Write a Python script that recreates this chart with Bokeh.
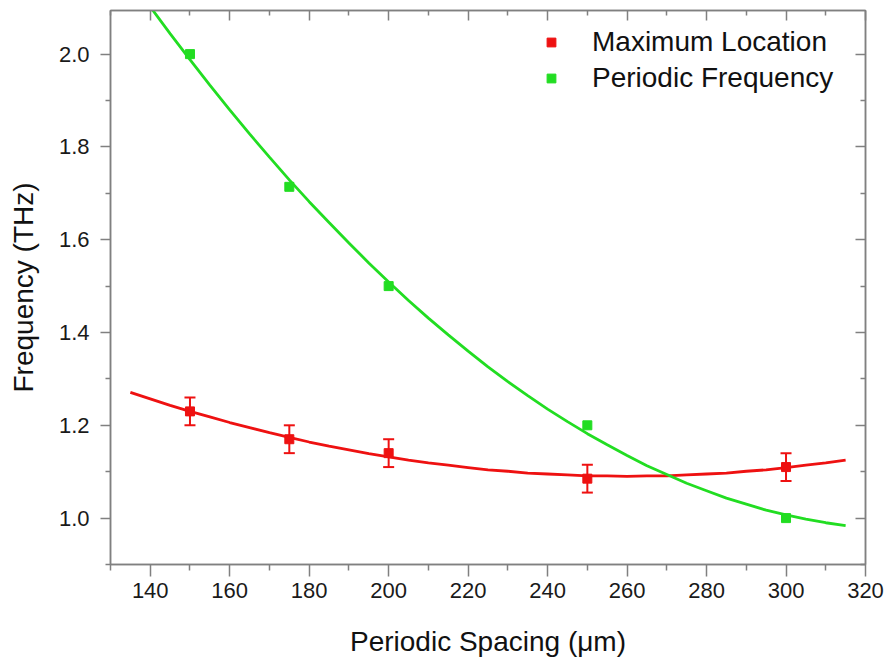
from bokeh.plotting import figure
from bokeh.models import (Range1d, LinearAxis, FixedTicker, NumeralTickFormatter,
                          CustomJSTickFormatter, Whisker, TeeHead, ColumnDataSource,
                          Legend, LegendItem)
from bokeh.embed import file_html
from bokeh.resources import INLINE

# ---- data ----
spacing = [150, 175, 200, 250, 300]
max_location = [1.23, 1.17, 1.14, 1.085, 1.11]
max_location_err = [0.03, 0.03, 0.03, 0.03, 0.03]
periodic_freq = [2.0, 1.714, 1.5, 1.2, 1.0]

# fitted curves
red_fit_x = [135, 140, 145, 150, 155, 160, 165, 170, 175, 180, 185, 190, 195, 200,
             205, 210, 215, 220, 225, 230, 235, 240, 245, 250, 255, 260, 265, 270,
             275, 280, 285, 290, 295, 300, 305, 310, 315]
red_fit_y = [1.271, 1.257, 1.243, 1.230, 1.218, 1.206, 1.195, 1.184, 1.174, 1.164,
             1.155, 1.147, 1.139, 1.132, 1.125, 1.119, 1.114, 1.109, 1.104, 1.101,
             1.097, 1.095, 1.093, 1.091, 1.091, 1.090, 1.091, 1.091, 1.093, 1.095,
             1.097, 1.101, 1.104, 1.109, 1.114, 1.119, 1.125]
green_fit_x = [140, 145, 150, 155, 160, 165, 170, 175, 180, 185, 190, 195, 200,
               205, 210, 215, 220, 225, 230, 235, 240, 245, 250, 255, 260, 265, 270,
               275, 280, 285, 290, 295, 300, 305, 310, 315]
green_fit_y = [2.102, 2.044, 1.988, 1.933, 1.880, 1.828, 1.778, 1.729, 1.682, 1.637,
               1.593, 1.550, 1.509, 1.469, 1.431, 1.395, 1.360, 1.326, 1.294, 1.264,
               1.235, 1.208, 1.182, 1.158, 1.135, 1.113, 1.094, 1.075, 1.059, 1.043,
               1.030, 1.017, 1.007, 0.998, 0.990, 0.984]

x_major = [140, 160, 180, 200, 220, 240, 260, 280, 300, 320]
x_minor = [130, 150, 170, 190, 210, 230, 250, 270, 290, 310]
y_major = [1.0, 1.2, 1.4, 1.6, 1.8, 2.0]
y_minor = [0.9, 1.1, 1.3, 1.5, 1.7, 1.9, 2.1]

RED = "#EE1111"
GREEN = "#22DD22"
AXIS = "#808080"
FONT = "Liberation Sans"

p = figure(width=887, height=659, output_backend="svg", toolbar_location=None,
           x_range=Range1d(130, 320), y_range=Range1d(0.9, 2.094),
           min_border_left=110, min_border_right=22, min_border_top=10,
           min_border_bottom=94,
           x_axis_label="Periodic Spacing (\u03bcm)", y_axis_label="Frequency (THz)")
p.xgrid.visible = False
p.ygrid.visible = False
p.outline_line_color = AXIS
p.outline_line_width = 1.5
p.background_fill_color = "white"
p.border_fill_color = "white"

xa = p.xaxis[0]
xa.ticker = FixedTicker(ticks=x_major, minor_ticks=x_minor)
ya = p.yaxis[0]
ya.ticker = FixedTicker(ticks=y_major, minor_ticks=y_minor)
ya.formatter = NumeralTickFormatter(format="0.0")

for ax in (xa, ya):
    ax.axis_line_color = AXIS
    ax.axis_line_width = 1.5
    ax.major_tick_line_color = AXIS
    ax.minor_tick_line_color = AXIS
    ax.major_tick_line_width = 1.5
    ax.minor_tick_line_width = 1.5
    ax.major_tick_in = 0
    ax.minor_tick_in = 0
    ax.major_label_text_font = FONT
    ax.major_label_text_font_size = "22px"
    ax.major_label_text_color = "#1a1a1a"
    ax.axis_label_text_font = FONT
    ax.axis_label_text_font_size = "28px"
    ax.axis_label_text_font_style = "normal"
    ax.axis_label_text_color = "#111111"

xa.major_tick_out = 12
xa.minor_tick_out = 6
xa.major_label_standoff = 6
xa.axis_label_standoff = 25
ya.major_tick_out = 10
ya.minor_tick_out = 5
ya.major_label_standoff = 11
ya.axis_label_standoff = 17

# mirror axes (top / right) with inward ticks, no labels
empty = CustomJSTickFormatter(code="return ''")
top = LinearAxis(ticker=FixedTicker(ticks=x_major, minor_ticks=x_minor), formatter=empty)
right = LinearAxis(ticker=FixedTicker(ticks=y_major, minor_ticks=y_minor), formatter=empty)
for ax in (top, right):
    ax.axis_line_color = AXIS
    ax.axis_line_width = 1.5
    ax.major_tick_line_color = AXIS
    ax.minor_tick_line_color = AXIS
    ax.major_tick_line_width = 1.5
    ax.minor_tick_line_width = 1.5
    ax.major_tick_in = 10
    ax.minor_tick_in = 5
    ax.major_tick_out = 0
    ax.minor_tick_out = 0
    ax.major_label_standoff = 0
    ax.major_label_text_font_size = "1px"
p.add_layout(top, "above")
p.add_layout(right, "right")

# ---- data sources ----
src_pts = ColumnDataSource(dict(
    x=spacing, red=max_location, green=periodic_freq,
    upper=[v + e for v, e in zip(max_location, max_location_err)],
    lower=[v - e for v, e in zip(max_location, max_location_err)],
))

# red fit curve + points + error bars
p.line(red_fit_x, red_fit_y, line_color=RED, line_width=2.8)
wh = Whisker(source=src_pts, base="x", upper="upper", lower="lower", dimension="height",
             line_color=RED, line_width=2,
             upper_head=TeeHead(size=11, line_color=RED, line_width=2),
             lower_head=TeeHead(size=11, line_color=RED, line_width=2))
p.add_layout(wh)
r_red = p.scatter("x", "red", source=src_pts, marker="square", size=9,
                  fill_color=RED, line_color=RED)

# green fit curve + points
p.line(green_fit_x, green_fit_y, line_color=GREEN, line_width=2.8)
r_green = p.scatter("x", "green", source=src_pts, marker="square", size=9,
                    fill_color=GREEN, line_color=GREEN)

legend = Legend(items=[LegendItem(label="Maximum Location", renderers=[r_red]),
                       LegendItem(label="Periodic Frequency", renderers=[r_green])],
                location=(430, 468))
legend.border_line_color = None
legend.background_fill_alpha = 0
legend.label_text_font = FONT
legend.label_text_font_size = "28px"
legend.label_text_color = "#111111"
legend.glyph_width = 22
legend.glyph_height = 36
legend.label_height = 36
legend.label_standoff = 30
legend.padding = 10
legend.spacing = 0
legend.margin = 0
p.add_layout(legend)

open("out.html", "w").write(file_html(p, INLINE))
